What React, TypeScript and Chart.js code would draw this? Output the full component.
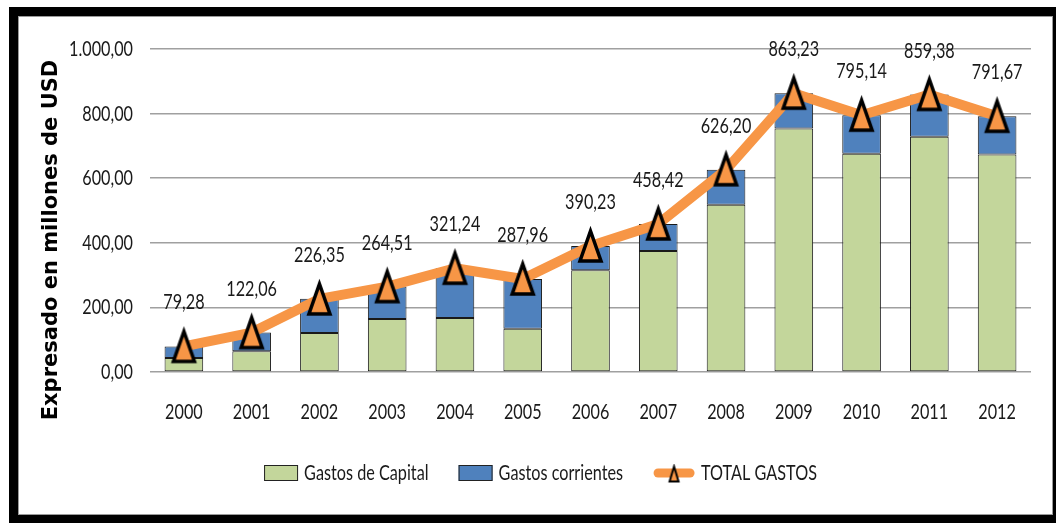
import React, { useEffect, useRef } from 'react';
import { Chart, registerables } from 'chart.js';

Chart.register(...registerables);

const years = ['2000', '2001', '2002', '2003', '2004', '2005', '2006', '2007', '2008', '2009', '2010', '2011', '2012'];
const gastosCapital = [43, 64, 121, 164, 167, 134, 315, 375, 518, 754, 676, 728, 673];
const gastosCorrientes = [36.3, 58.1, 105.4, 100.5, 154.2, 154.0, 75.2, 83.4, 108.2, 109.2, 119.1, 131.4, 118.7];
const totalGastos = [79.28, 122.06, 226.35, 264.51, 321.24, 287.96, 390.23, 458.42, 626.2, 863.23, 795.14, 859.38, 791.67];
const yMin = 0;
const yMax = 1000;
const yStep = 200;
const axisTitle = 'Expresado en millones de USD';

const FONT = "Lato, 'Open Sans', 'Liberation Sans', sans-serif";
const FSIZE = 22;
const GREEN = '#C3D69B';
const BLUE = '#4F81BD';
const ORANGE = '#F79646';
const TEXT = '#1a1a1a';

function fmt(v: number): string {
  const [i, d] = Number(v).toFixed(2).split('.');
  return i.replace(/\B(?=(\d{3})+(?!\d))/g, '.') + ',' + d;
}

function makeTriangle(w: number, h: number, lw: number, pad: number): HTMLCanvasElement {
  const c = document.createElement('canvas');
  c.width = w + pad * 2;
  c.height = h + pad * 2;
  const ctx = c.getContext('2d')!;
  ctx.beginPath();
  ctx.moveTo(c.width / 2, pad);
  ctx.lineTo(c.width - pad, pad + h);
  ctx.lineTo(pad, pad + h);
  ctx.closePath();
  ctx.fillStyle = ORANGE;
  ctx.fill();
  ctx.lineWidth = lw;
  ctx.lineJoin = 'miter';
  ctx.miterLimit = 10;
  ctx.strokeStyle = '#000';
  ctx.stroke();
  return c;
}

export default function App() {
  const ref = useRef<HTMLCanvasElement | null>(null);

  useEffect(() => {
    if (!ref.current) return;
    const tri = makeTriangle(21, 30, 3.5, 7);
    const smallTri = makeTriangle(9, 15, 2, 3);

    let sx = 0.8;
    const txt = (ctx: any, s: string, x: number, y: number, align: string) => {
      ctx.save();
      ctx.translate(x, y);
      ctx.scale(sx, 1);
      ctx.textAlign = align;
      ctx.textBaseline = 'middle';
      ctx.fillText(s, 0, 0);
      ctx.restore();
    };

    const overlay = {
      id: 'overlay',
      afterDatasetsDraw(chart: any) {
        const ctx = chart.ctx;
        ctx.save();
        ctx.font = `${FSIZE}px ${FONT}`;
        sx = 64 / ctx.measureText('1.000,00').width;
        ctx.fillStyle = TEXT;
        // value labels
        const meta = chart.getDatasetMeta(2);
        meta.data.forEach((pt: any, i: number) => {
          txt(ctx, fmt(totalGastos[i]), pt.x, pt.y - 44, 'center');
        });
        // y tick labels
        const ys = chart.scales.y;
        ys.ticks.forEach((t: any) => {
          txt(ctx, fmt(t.value), ys.right - 17, ys.getPixelForValue(t.value), 'right');
        });
        // x tick labels
        const xs = chart.scales.x;
        years.forEach((lab, i) => {
          txt(ctx, lab, xs.getPixelForValue(i), chart.chartArea.bottom + 40, 'center');
        });
        ctx.restore();
      },
      afterDraw(chart: any) {
        const ctx = chart.ctx;
        // axis title
        ctx.save();
        ctx.translate(34, 224);
        ctx.rotate(-Math.PI / 2);
        ctx.font = `bold 21px 'DejaVu Sans', Verdana, sans-serif`;
        ctx.fillStyle = '#000';
        ctx.textAlign = 'center';
        ctx.textBaseline = 'middle';
        ctx.fillText(axisTitle, 0, 0);
        ctx.restore();

        // legend
        ctx.save();
        ctx.font = `${FSIZE}px ${FONT}`;
        const ds = chart.data.datasets;
        const boxW = 34, boxH = 16, lineW = 42, gap = 6, itemGap = 30;
        const items = ds.map((d: any, i: number) => ({
          label: d.label,
          kind: i < 2 ? 'box' : 'line',
          color: d.backgroundColor,
          mw: i < 2 ? boxW : lineW,
          tw: ctx.measureText(d.label).width * sx,
        }));
        const total = items.reduce((s: number, it: any) => s + it.mw + gap + it.tw, 0) + itemGap * (items.length - 1);
        let x = chart.width / 2 + 5 - total / 2;
        const y = 457;
        items.forEach((it: any) => {
          if (it.kind === 'box') {
            ctx.fillStyle = it.color;
            ctx.fillRect(x, y - boxH / 2, boxW, boxH);
            ctx.strokeStyle = '#222';
            ctx.lineWidth = 1;
            ctx.strokeRect(x + 0.5, y - boxH / 2 + 0.5, boxW - 1, boxH - 1);
          } else {
            ctx.strokeStyle = ORANGE;
            ctx.lineWidth = 9;
            ctx.lineCap = 'round';
            ctx.beginPath();
            ctx.moveTo(x + 5, y);
            ctx.lineTo(x + lineW - 5, y);
            ctx.stroke();
            ctx.drawImage(smallTri, x + lineW / 2 - smallTri.width / 2, y - smallTri.height / 2 + 1);
          }
          x += it.mw + gap;
          ctx.fillStyle = TEXT;
          txt(ctx, it.label, x, y, 'left');
          x += it.tw + itemGap;
        });
        ctx.restore();
      },
    };

    const chart = new Chart(ref.current, {
      type: 'bar',
      data: {
        labels: years,
        datasets: [
          {
            type: 'bar',
            label: 'Gastos de Capital',
            data: gastosCapital,
            backgroundColor: GREEN,
            borderColor: '#1a1a1a',
            borderWidth: 1,
            borderSkipped: false,
            stack: 'g',
            order: 1,
            barPercentage: 0.57,
            categoryPercentage: 1,
          },
          {
            type: 'bar',
            label: 'Gastos corrientes',
            data: gastosCorrientes,
            backgroundColor: BLUE,
            borderColor: '#1a1a1a',
            borderWidth: 1,
            borderSkipped: false,
            stack: 'g',
            order: 1,
            barPercentage: 0.57,
            categoryPercentage: 1,
          },
          {
            type: 'line',
            label: 'TOTAL GASTOS',
            data: totalGastos,
            borderColor: ORANGE,
            backgroundColor: ORANGE,
            borderWidth: 10,
            borderJoinStyle: 'round',
            borderCapStyle: 'round',
            tension: 0,
            pointStyle: tri as any,
            pointRadius: 12,
            order: 0,
          } as any,
        ],
      },
      options: {
        animation: false,
        responsive: true,
        maintainAspectRatio: false,
        layout: { padding: { left: 0, right: 18, top: 33, bottom: 0 } },
        plugins: { legend: { display: false }, tooltip: { enabled: false } },
        scales: {
          x: {
            stacked: true,
            grid: { display: false },
            border: { display: false },
            ticks: { display: false },
            afterFit: (s: any) => { s.height = 143; },
          },
          y: {
            stacked: true,
            min: yMin,
            max: yMax,
            ticks: { stepSize: yStep, display: false },
            grid: { color: '#a0a0a0', lineWidth: 1.5, drawTicks: false },
            border: { display: false },
            afterFit: (s: any) => { s.width = 132; },
          },
        },
      } as any,
      plugins: [overlay],
    });
    return () => chart.destroy();
  }, []);

  return (
    <div style={{ position: 'fixed', left: 0, top: 0, width: 1056, height: 523, overflow: 'hidden', background: '#fff' }}>
      <div
        style={{
          position: 'absolute',
          left: 9,
          top: 7,
          width: 1053,
          height: 517,
          boxSizing: 'border-box',
          border: '9px solid #000',
          boxShadow: 'inset 0 0 0 1px #9a9a9a',
        }}
      >
        <div style={{ position: 'relative', width: 1035, height: 499 }}>
          <canvas ref={ref} />
        </div>
      </div>
    </div>
  );
}
